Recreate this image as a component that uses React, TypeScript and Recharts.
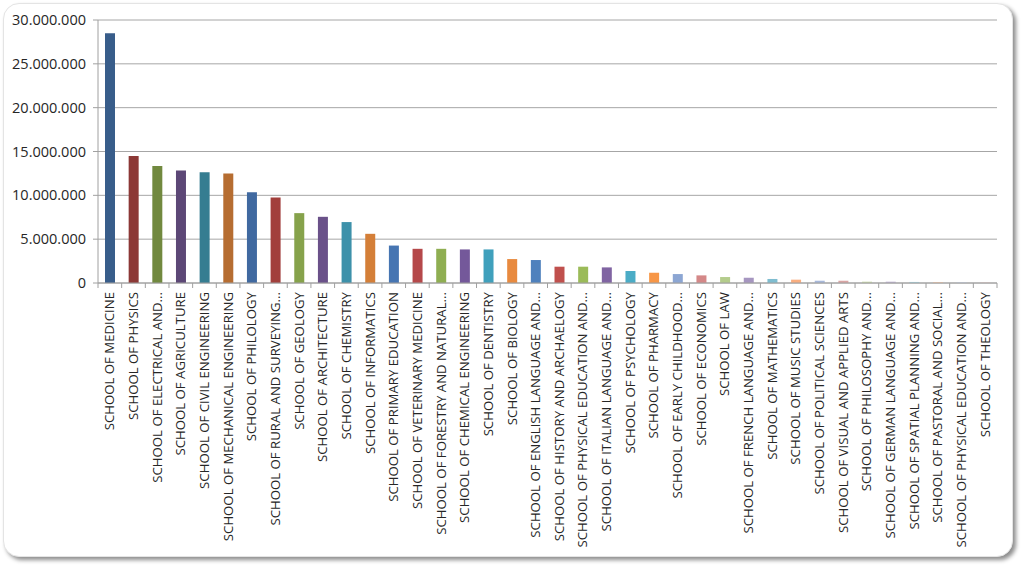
import React from 'react';
import { BarChart, Bar, XAxis, YAxis, CartesianGrid, Cell } from 'recharts';

const schools: string[] = [
  'SCHOOL OF MEDICINE',
  'SCHOOL OF PHYSICS',
  'SCHOOL OF ELECTRICAL AND...',
  'SCHOOL OF AGRICULTURE',
  'SCHOOL OF CIVIL ENGINEERING',
  'SCHOOL OF MECHANICAL ENGINEERING',
  'SCHOOL OF PHILOLOGY',
  'SCHOOL OF RURAL AND SURVEYING...',
  'SCHOOL OF GEOLOGY',
  'SCHOOL OF ARCHITECTURE',
  'SCHOOL OF CHEMISTRY',
  'SCHOOL OF INFORMATICS',
  'SCHOOL OF PRIMARY EDUCATION',
  'SCHOOL OF VETERINARY MEDICINE',
  'SCHOOL OF FORESTRY AND NATURAL...',
  'SCHOOL OF CHEMICAL ENGINEERING',
  'SCHOOL OF DENTISTRY',
  'SCHOOL OF BIOLOGY',
  'SCHOOL OF ENGLISH LANGUAGE AND...',
  'SCHOOL OF HISTORY AND ARCHAELOGY',
  'SCHOOL OF PHYSICAL EDUCATION AND...',
  'SCHOOL OF ITALIAN LANGUAGE AND...',
  'SCHOOL OF PSYCHOLOGY',
  'SCHOOL OF PHARMACY',
  'SCHOOL OF EARLY CHILDHOOD...',
  'SCHOOL OF ECONOMICS',
  'SCHOOL OF LAW',
  'SCHOOL OF FRENCH LANGUAGE AND...',
  'SCHOOL OF MATHEMATICS',
  'SCHOOL OF MUSIC STUDIES',
  'SCHOOL OF POLITICAL SCIENCES',
  'SCHOOL OF VISUAL AND APPLIED ARTS',
  'SCHOOL OF PHILOSOPHY AND...',
  'SCHOOL OF GERMAN LANGUAGE AND...',
  'SCHOOL OF SPATIAL PLANNING AND...',
  'SCHOOL OF PASTORAL AND SOCIAL...',
  'SCHOOL OF PHYSICAL EDUCATION AND...',
  'SCHOOL OF THEOLOGY',
];

const values: number[] = [
  28500000, 14500000, 13360000, 12820000, 12640000, 12480000, 10360000, 9750000,
  7970000, 7550000, 6950000, 5610000, 4270000, 3900000, 3900000, 3830000,
  3830000, 2730000, 2620000, 1860000, 1860000, 1780000, 1370000, 1170000,
  1020000, 870000, 680000, 600000, 460000, 380000, 260000, 260000,
  150000, 150000, 120000, 100000, 80000, 70000,
];

const colors: string[] = [
  '#385D8A', '#8C3836', '#71893F', '#5C4776', '#357D91', '#B66D31',
  '#4069A0', '#A23F3C', '#86A24B', '#6A5189', '#3D91AA', '#D47F38',
  '#4675B2', '#B5484A', '#8FAE52', '#74589A', '#40A0BC', '#E88A3F',
  '#4F81BD', '#C0504D', '#9BBB59', '#8064A2', '#4BACC6', '#F79646',
  '#8CA6D3', '#D48888', '#B4CC8C', '#A696C0', '#7FBDD0', '#F9AE80',
  '#A7B8DA', '#D9A5A4', '#C5D6A6', '#BBAFD0', '#A4D2DE', '#FBC8A5',
  '#C9D5EA', '#E9C9C8',
];

const yTicks: number[] = [0, 5000000, 10000000, 15000000, 20000000, 25000000, 30000000];

const data = schools.map((name, i) => ({ name, value: values[i] }));

const fmt = (v: number) => String(v).replace(/\B(?=(\d{3})+(?!\d))/g, '.');

const PLOT_LEFT = 98;
const PLOT_RIGHT = 997;
const HALF_BAND = (PLOT_RIGHT - PLOT_LEFT) / schools.length / 2;

const XTick = (props: any) => {
  const { x, y, payload, index } = props;
  const isLast = index === schools.length - 1;
  return (
    <g>
      <line x1={x - HALF_BAND} y1={y - 8} x2={x - HALF_BAND} y2={y - 3} stroke="#A0A0A0" />
      {isLast && <line x1={x + HALF_BAND} y1={y - 8} x2={x + HALF_BAND} y2={y - 3} stroke="#A0A0A0" />}
      <text
        x={x + 4.5}
        y={y + 1}
        transform={`rotate(-90, ${x + 4.5}, ${y + 1})`}
        textAnchor="end"
        fontSize={13.2}
        fontFamily="'Open Sans', sans-serif"
        fill="#262626"
      >
        {payload.value}
      </text>
    </g>
  );
};

const YTick = (props: any) => {
  const { x, y, payload } = props;
  return (
    <text
      x={x - 5}
      y={y + 5}
      textAnchor="end"
      fontSize={14.5}
      fontFamily="'Open Sans', sans-serif"
      fill="#262626"
    >
      {fmt(payload.value)}
    </text>
  );
};

export default function App() {
  return (
    <div style={{ position: 'absolute', left: 0, top: 0, width: 1024, height: 569, background: '#fff' }}>
      <div
        style={{
          position: 'absolute',
          left: 3,
          top: 3,
          width: 1008,
          height: 552,
          borderRadius: 16,
          border: '1px solid #e4e4e4',
          background: '#fff',
          boxShadow: '3px 3px 4px rgba(0,0,0,0.45)',
        }}
      />
      <div style={{ position: 'absolute', left: 0, top: 0 }}>
        <BarChart
          width={1024}
          height={569}
          data={data}
          margin={{ top: 20, right: 1024 - PLOT_RIGHT, bottom: 0, left: 8 }}
          barCategoryGap={0}
        >
          <CartesianGrid vertical={false} stroke="#A6A6A6" strokeWidth={1} />
          <XAxis
            dataKey="name"
            interval={0}
            height={286}
            tickLine={false}
            axisLine={{ stroke: '#A0A0A0' }}
            tick={<XTick />}
          />
          <YAxis
            width={90}
            domain={[0, 30000000]}
            ticks={yTicks}
            axisLine={{ stroke: '#A0A0A0' }}
            tickLine={{ stroke: '#A0A0A0' }}
            tickSize={5}
            tick={<YTick />}
          />
          <Bar dataKey="value" barSize={10} isAnimationActive={false}>
            {data.map((d, i) => (
              <Cell key={d.name + i} fill={colors[i]} />
            ))}
          </Bar>
        </BarChart>
      </div>
    </div>
  );
}
